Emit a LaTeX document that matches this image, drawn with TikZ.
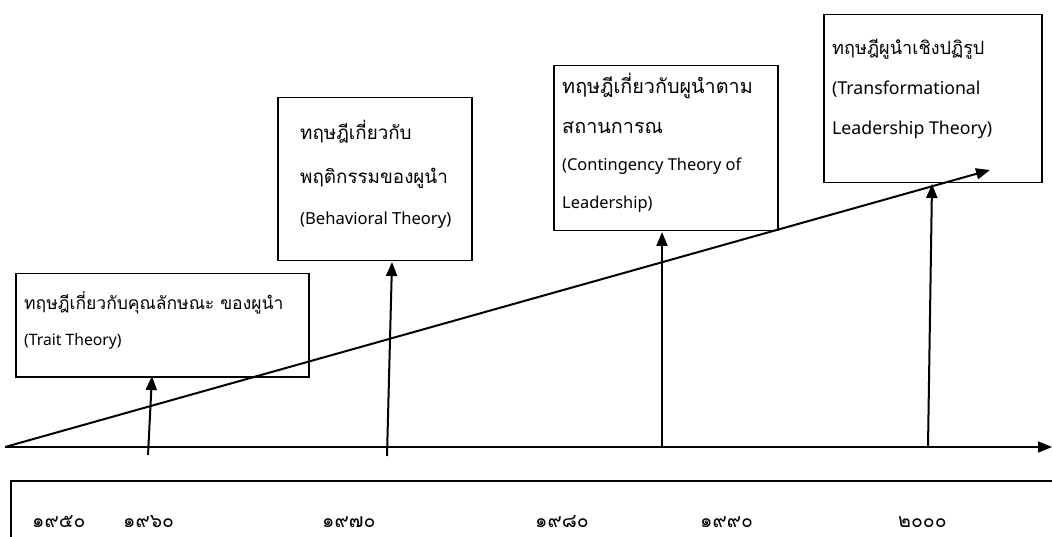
\documentclass[tikz,border=0pt]{standalone}
\usepackage{fontspec}
\newfontfamily\thaifont[Script=Thai]{Loma}
\newfontfamily\latinfont{Noto Sans}
\usetikzlibrary{arrows.meta,positioning}

\begin{document}
\begin{tikzpicture}[x=1pt, y=-1pt,
  tbox/.style={rectangle, draw, line width=1.5pt, anchor=north west, inner sep=0pt, fill=white},
  thline/.style={anchor=base west, inner sep=0pt, font=\thaifont\fontsize{#1}{20}\selectfont},
  enline/.style={anchor=base west, inner sep=0pt, font=\latinfont\fontsize{#1}{15}\selectfont},
  year/.style={anchor=base west, inner sep=0pt, font=\thaifont\fontsize{19.5}{20}\selectfont},
  arr/.style={-{Triangle[length=14pt,width=11pt]}, line width=2pt}
]
\useasboundingbox (0,0) rectangle (1052,537);
\clip (0,0) rectangle (1052,537);

% Theory boxes
\node[tbox, minimum width=293, minimum height=103] (trait) at (15,273) {};
\node[tbox, minimum width=194, minimum height=163] (behav) at (277,97) {};
\node[tbox, minimum width=224, minimum height=165] (conting) at (553,65) {};
\node[tbox, minimum width=218, minimum height=168] (transf) at (823,14) {};

% Box texts
\node[thline=17.5] (trait1) at (24,309) {ทฤษฎีเกี่ยวกับคุณลักษณะ ของผูนำ};
\node[enline=15.7] (trait2) at (24,345) {(Trait Theory)};

\node[thline=18.8] (behav1) at (300,140) {ทฤษฎีเกี่ยวกับ};
\node[thline=18.8] (behav2) at (300,184) {พฤติกรรมของผูนำ};
\node[enline=16.6] (behav3) at (300,225) {(Behavioral Theory)};

\node[thline=19.8] (conting1) at (562,94) {ทฤษฎีเกี่ยวกับผูนำตาม};
\node[thline=19.8] (conting2) at (562,134) {สถานการณ};
\node[enline=16.4] (conting3) at (562,171) {(Contingency Theory of};
\node[enline=16.4] (conting4) at (562,209) {Leadership)};

\node[thline=18.1] (transf1) at (832,55) {ทฤษฎีผูนำเชิงปฏิรูป};
\node[enline=17.7] (transf2) at (832,95) {(Transformational};
\node[enline=17.7] (transf3) at (832,135) {Leadership Theory)};

% Time axis and trend line
\coordinate (origin) at (5,447);
\coordinate (axisend) at (1052,447);
\coordinate (trendtip) at (990,170);
\draw[arr] (origin) -- (axisend);
\draw[arr] (origin) -- (trendtip);

% Arrows up to the boxes
\coordinate (foot1) at (148,455);
\coordinate (head1) at (152,376);
\coordinate (foot2) at (387,456);
\coordinate (head2) at (392,262);
\coordinate (foot3) at (662,447);
\coordinate (head3) at (662,232);
\coordinate (foot4) at (928,447);
\coordinate (head4) at (932,184);
\draw[arr] (foot1) -- (head1);
\draw[arr] (foot2) -- (head2);
\draw[arr] (foot3) -- (head3);
\draw[arr] (foot4) -- (head4);

% Years
\node[tbox, minimum width=1060, minimum height=80] (years) at (10,480) {};
\node[year] (y50) at (32,527) {๑๙๕๐};
\node[year] (y60) at (123,527) {๑๙๖๐};
\node[year] (y70) at (322,527) {๑๙๗๐};
\node[year] (y80) at (535,527) {๑๙๘๐};
\node[year] (y90) at (700,527) {๑๙๙๐};
\node[year] (y00) at (898,527) {๒๐๐๐};

\end{tikzpicture}
\end{document}
